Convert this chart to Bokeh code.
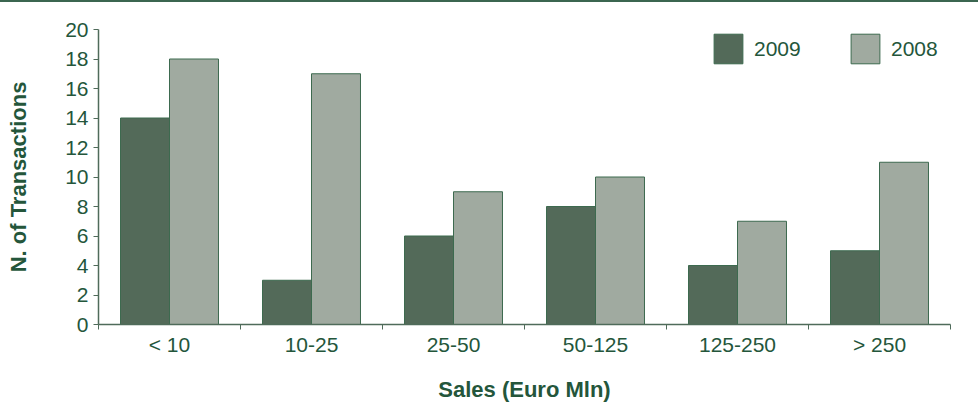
from bokeh.plotting import figure
from bokeh.models import ColumnDataSource, FixedTicker, Range1d, Legend, LegendItem, Div
from bokeh.layouts import column
from bokeh.embed import file_html
from bokeh.resources import INLINE

categories = ["< 10", "10-25", "25-50", "50-125", "125-250", "> 250"]
values_2009 = [14, 3, 6, 8, 4, 5]
values_2008 = [18, 17, 9, 10, 7, 11]
y_ticks = [0, 2, 4, 6, 8, 10, 12, 14, 16, 18, 20]

TEXT = "#24563b"
AXIS = "#4f6b5a"
DARK = "#536a59"
LIGHT = "#a0aaa0"
EDGE = "#3d6a4f"
FONT = "Liberation Sans"

n = len(categories)
centers = [i + 0.5 for i in range(n)]
bw = 0.345
src = ColumnDataSource(dict(
    x09=[c - bw / 2 for c in centers],
    x08=[c + bw / 2 for c in centers],
    v09=values_2009,
    v08=values_2008,
))

p = figure(width=978, height=404, output_backend="svg", toolbar_location=None,
           x_range=Range1d(0, n), y_range=Range1d(0, 20),
           min_border_left=98, min_border_right=28, min_border_top=27, min_border_bottom=82,
           margin=0)
p.outline_line_color = None
p.grid.visible = False
p.background_fill_color = "white"
p.border_fill_color = "white"

r09 = p.vbar(x="x09", top="v09", width=bw, source=src, fill_color=DARK,
             line_color=EDGE, line_width=1)
r08 = p.vbar(x="x08", top="v08", width=bw, source=src, fill_color=LIGHT,
             line_color=EDGE, line_width=1)

# x axis: labels at centers, ticks at boundaries (as minor ticks)
xa = p.xaxis[0]
xa.ticker = FixedTicker(ticks=centers, minor_ticks=list(range(n + 1)))
xa.major_label_overrides = {c: lab for c, lab in zip(centers, categories)}
xa.major_tick_out = 0
xa.major_tick_in = 0
xa.minor_tick_out = 5
xa.minor_tick_in = 0
xa.minor_tick_line_color = AXIS
xa.axis_line_color = AXIS
xa.axis_line_width = 1.5
xa.major_label_text_font = FONT
xa.major_label_text_font_size = "21px"
xa.major_label_text_color = TEXT
xa.major_label_standoff = 3
xa.axis_label = "Sales (Euro Mln)"
xa.axis_label_text_font = FONT
xa.axis_label_text_font_style = "bold"
xa.axis_label_text_font_size = "22px"
xa.axis_label_text_color = TEXT
xa.axis_label_standoff = 18

ya = p.yaxis[0]
ya.ticker = FixedTicker(ticks=y_ticks, minor_ticks=[])
ya.major_tick_out = 5
ya.major_tick_in = 0
ya.major_tick_line_color = AXIS
ya.axis_line_color = AXIS
ya.axis_line_width = 1.5
ya.major_label_text_font = FONT
ya.major_label_text_font_size = "21px"
ya.major_label_text_color = TEXT
ya.major_label_standoff = 5
ya.axis_label = "N. of Transactions"
ya.axis_label_text_font = FONT
ya.axis_label_text_font_style = "bold"
ya.axis_label_text_font_size = "22px"
ya.axis_label_text_color = TEXT
ya.axis_label_standoff = 31

legend = Legend(items=[LegendItem(label="2009", renderers=[r09]),
                       LegendItem(label="2008", renderers=[r08])],
                location="top_right", orientation="horizontal",
                glyph_width=36, glyph_height=37, label_height=37, label_width=58,
                label_standoff=8, spacing=35, padding=0, margin=1,
                label_text_font=FONT, label_text_font_size="21px",
                label_text_color=TEXT, border_line_color=None,
                background_fill_alpha=0)
p.add_layout(legend)

top_line = Div(width=978, height=2, margin=0, styles={"background-color": "#3b6650"})
layout = column(top_line, p, spacing=0, margin=0)

open("out.html", "w").write(file_html(layout, INLINE))
